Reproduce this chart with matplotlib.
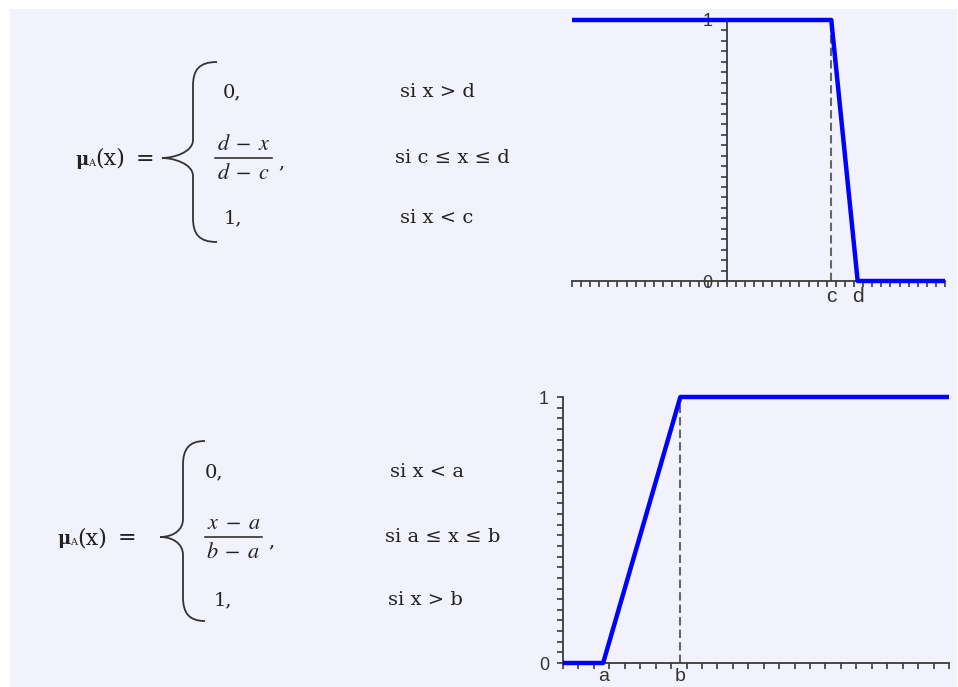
import matplotlib
matplotlib.use("Agg")
import matplotlib.pyplot as plt
import matplotlib.ticker as mticker
from matplotlib.path import Path
from matplotlib.patches import PathPatch, Rectangle
from matplotlib.transforms import Affine2D

plt.rcParams["mathtext.fontset"] = "stix"

W, H = 958, 687

# membership functions (x positions in plot units, mu values)
DEC_X  = [-17, 11.5, 14.4, 24]     # left end, c, d, right end
DEC_MU = [1, 1, 0, 0]
DEC_LABELS = ["c", "d"]
INC_X  = [0, 2.6, 7.6, 25]         # left end, a, b, right end
INC_MU = [0, 0, 1, 1]
INC_LABELS = ["a", "b"]

BLUE = "#0000ff"
AXC  = "#3a3a3a"
TXT  = "#222222"
BG   = "#f2f2fc"
SANS = "Liberation Sans"
SERIF = "DejaVu Serif"

fig = plt.figure(figsize=(W / 100, H / 100), dpi=100)
fig.patch.set_facecolor("white")
# pixel transform, origin top-left
PX = Affine2D().scale(1 / W, -1 / H).translate(0, 1) + fig.transFigure
fig.patches.append(Rectangle((10, 9), 947, 678, transform=PX,
                             facecolor=BG, edgecolor="none", zorder=-10))


def style_axes(ax, xlim, xstep, ylim=(0, 1)):
    ax.set_facecolor("none")
    ax.set_xlim(*xlim); ax.set_ylim(*ylim)
    for s in ["top", "right"]:
        ax.spines[s].set_visible(False)
    for s in ["left", "bottom"]:
        ax.spines[s].set_color(AXC); ax.spines[s].set_linewidth(1.3)
        ax.spines[s].set_position(("data", 0))
    ax.xaxis.set_minor_locator(mticker.MultipleLocator(xstep))
    ax.yaxis.set_minor_locator(mticker.MultipleLocator(0.04))
    ax.set_yticks([0, 1]); ax.set_yticklabels(["0", "1"])
    ax.tick_params(axis="y", which="both", direction="out", length=4, width=1.2,
                   color=AXC, labelsize=13, labelcolor="#333333", pad=6)
    ax.tick_params(axis="x", which="minor", direction="out", length=4, width=1.2,
                   color=AXC)
    ax.tick_params(axis="x", which="major", length=0, pad=4, labelsize=15,
                   labelcolor="#333333")
    for lab in ax.get_xticklabels() + ax.get_yticklabels():
        lab.set_fontfamily(SANS)


# ---------------------------------------------------------------------------
# top: decreasing membership function
# ---------------------------------------------------------------------------
ax1 = fig.add_axes([572 / W, 1 - 281 / H, 373 / W, 261 / H])
style_axes(ax1, (DEC_X[0], DEC_X[-1]), 1)
ax1.set_xticks(DEC_X[1:3]); ax1.set_xticklabels(DEC_LABELS, fontfamily=SANS)
ax1.plot([DEC_X[1], DEC_X[1]], [0, 1], color="#666666", lw=1.5,
         dashes=(4, 2), zorder=2)
ax1.plot(DEC_X, DEC_MU, color=BLUE, lw=3.2, clip_on=False, zorder=3,
         solid_capstyle="butt")

# ---------------------------------------------------------------------------
# bottom: increasing membership function
# ---------------------------------------------------------------------------
ax2 = fig.add_axes([563 / W, 1 - 663 / H, 386 / W, 266 / H])
style_axes(ax2, (INC_X[0], INC_X[-1]), 1)
ax2.tick_params(axis="x", which="major", pad=3.5, labelsize=14)
ax2.set_xticks(INC_X[1:3]); ax2.set_xticklabels(INC_LABELS, fontfamily=SANS)
ax2.plot([INC_X[2], INC_X[2]], [0, 1], color="#666666", lw=1.5,
         dashes=(4, 2), zorder=2)
ax2.plot(INC_X, INC_MU, color=BLUE, lw=3.2, clip_on=False, zorder=3,
         solid_capstyle="butt")


# ---------------------------------------------------------------------------
# formulas
# ---------------------------------------------------------------------------
def brace(xt, xv, xh, ytop, ymid, ybot):
    verts = [(xh, ytop), (xv + 6, ytop), (xv, ytop + 8), (xv, ytop + 24),
             (xv, ymid - 18),
             (xv, ymid - 6), (xt + 12, ymid), (xt, ymid),
             (xt + 12, ymid), (xv, ymid + 6), (xv, ymid + 18),
             (xv, ybot - 24),
             (xv, ybot - 8), (xv + 6, ybot), (xh, ybot)]
    codes = [Path.MOVETO, Path.CURVE4, Path.CURVE4, Path.CURVE4, Path.LINETO,
             Path.CURVE4, Path.CURVE4, Path.CURVE4,
             Path.CURVE4, Path.CURVE4, Path.CURVE4, Path.LINETO,
             Path.CURVE4, Path.CURVE4, Path.CURVE4]
    fig.patches.append(PathPatch(Path(verts, codes), transform=PX, fill=False,
                                 edgecolor="#333333", lw=1.3))


def mu_label(x, y):
    kw = dict(transform=PX, va="baseline", ha="left", color=TXT, family=SERIF)
    fig.text(x, y, "μ", fontsize=13, fontweight="bold", **kw)
    fig.text(x + 13.5, y + 1, "A", fontsize=7, **kw)
    fig.text(x + 20, y, "(x)", fontsize=16, **kw)
    fig.text(x + 61, y, "=", fontsize=16, **kw)


def fraction(xl, xr, y_mid, num, den):
    xc = (xl + xr) / 2
    fig.text(xc, y_mid - 14, num, ha="center", va="center", color=TXT,
             fontsize=16, transform=PX)
    fig.text(xc, y_mid + 15, den, ha="center", va="center", color=TXT,
             fontsize=16, transform=PX)
    fig.lines.append(plt.Line2D([xl, xr], [y_mid, y_mid], color=TXT, lw=1.1,
                                transform=PX))
    fig.text(xr + 6, y_mid + 4, ",", ha="left", va="center", color=TXT,
             fontsize=14, family=SERIF, transform=PX)


def formula(x_mu, y_mid, xb, y0, y1, xcase, frac, conds, xcond):
    mu_label(x_mu, y_mid + 7)
    brace(xb[0], xb[1], xb[2], y_mid - 96, y_mid, y_mid + 84)
    kw = dict(transform=PX, color=TXT, family=SERIF, fontsize=14,
              va="center", ha="left")
    fig.text(xcase[0], y0, "0,", **kw)
    fraction(xcase[1], xcase[1] + 57, y_mid, frac[0], frac[1])
    fig.text(xcase[2], y1, "1,", **kw)
    for yy, cond, dx in zip([y0, y_mid, y1], conds, xcond):
        fig.text(dx, yy, cond, **kw)


formula(75, 158, (162, 193, 217), 92, 218, (223, 215, 224),
        (r"$d\;-\;x$", r"$d\;-\;c$"),
        ["si x > d", "si c ≤ x ≤ d", "si x < c"], [400, 395, 400])

formula(57, 537, (160, 183, 205), 472, 600, (205, 205, 214),
        (r"$x\;-\;a$", r"$b\;-\;a$"),
        ["si x < a", "si a ≤ x ≤ b", "si x > b"], [390, 385, 388])

fig.savefig("out.png", dpi=100)
